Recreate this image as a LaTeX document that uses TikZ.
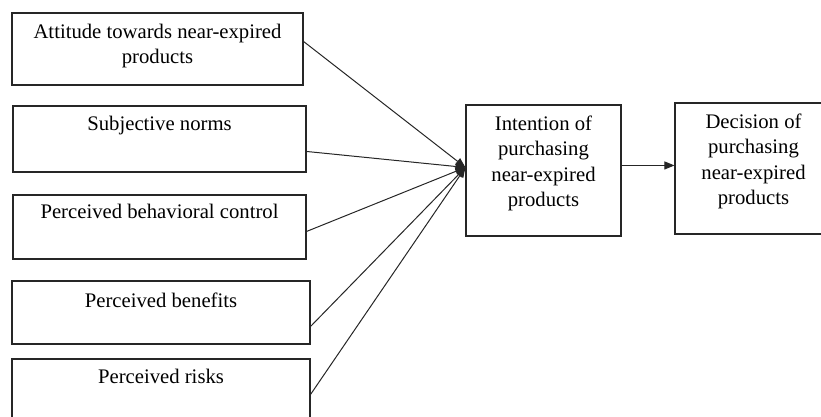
\documentclass[tikz,border=0pt]{standalone}
\usepackage{fontspec}
\setmainfont{Liberation Serif}
\usetikzlibrary{arrows.meta,calc}
\begin{document}
\begin{tikzpicture}[x=1pt,y=-1pt,
  box/.style={draw=black!85, line width=1.1pt, inner sep=0pt},
  txt/.style={font=\fontsize{20.7}{25.5}\selectfont, align=center, inner sep=0pt, anchor=base},
  conn/.style={draw=black!85, line width=1pt, -{Triangle[length=10pt,width=8pt]}}]
\useasboundingbox (0,0) rectangle (821,416);
\clip (0,0) rectangle (821,416);
% boxes
\node[box, minimum width=291, minimum height=72] (b1) at (157.5,49) {};
\node[box, minimum width=293, minimum height=66] (b2) at (159.5,139) {};
\node[box, minimum width=293, minimum height=64] (b3) at (159.5,227) {};
\node[box, minimum width=298, minimum height=63] (b4) at (161,312.5) {};
\node[box, minimum width=298, minimum height=66] (b5) at (161,392) {};
\node[box, minimum width=155, minimum height=131] (int) at (543.5,170.5) {};
\node[box, minimum width=157, minimum height=131] (dec) at (753.5,168.5) {};
% texts (base anchor = baseline of the last line)
\node[txt] (t1) at (157.5,63.5) {Attitude towards near-expired\\products};
\node[txt] (t2) at (159.5,130) {Subjective norms};
\node[txt] (t3) at (159.5,218) {Perceived behavioral control};
\node[txt] (t4) at (161,307) {Perceived benefits};
\node[txt] (t5) at (161,383) {Perceived risks};
\node[txt] (ti) at (543.5,206.5) {Intention of\\purchasing\\near-expired\\products};
\node[txt] (td) at (753.5,204.5) {Decision of\\purchasing\\near-expired\\products};
% connectors
\coordinate (tip) at ($(int.north west)+(0,63)$);
\draw[conn] ($(b1.north east)+(0,29)$) -- (tip);
\draw[conn] ($(b2.north east)+(0,46)$) -- (tip);
\draw[conn] ($(b3.north east)+(0,37)$) -- (tip);
\draw[conn] ($(b4.north east)+(0,46)$) -- (tip);
\draw[conn] ($(b5.north east)+(0,36)$) -- (tip);
\draw[conn] ($(int.north east)+(0,61)$) -- ($(dec.north west)+(0,63)$);
\end{tikzpicture}
\end{document}
